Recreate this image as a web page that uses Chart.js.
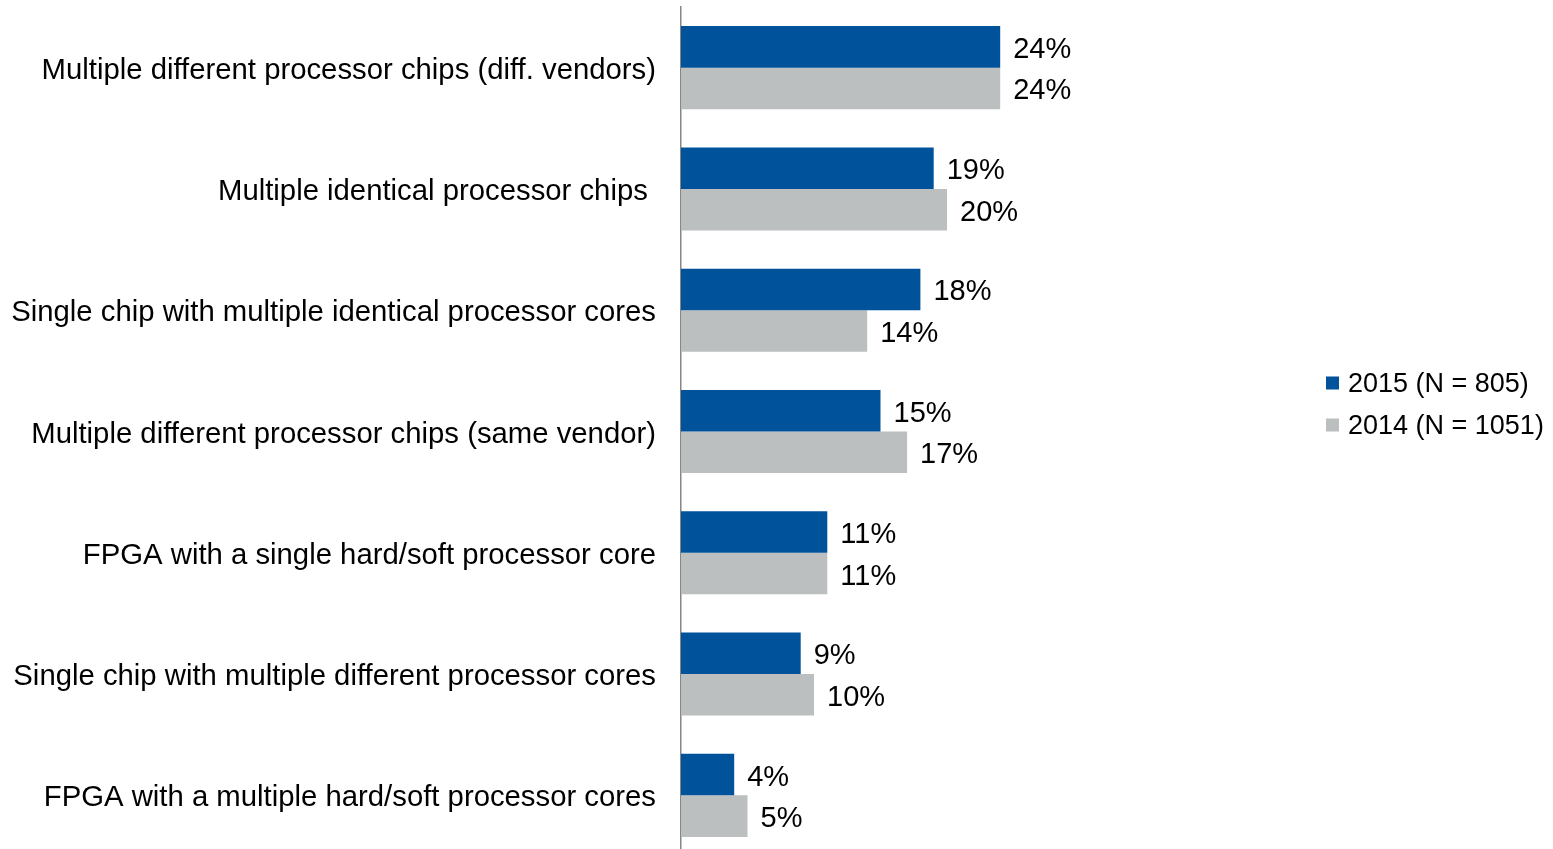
<!DOCTYPE html>
<html>
<head>
<meta charset="utf-8">
<title>Processor configurations</title>
<script src="https://cdn.jsdelivr.net/npm/chart.js@4.4.1/dist/chart.umd.min.js"></script>
<style>
  html, body { margin: 0; padding: 0; background: #ffffff; overflow: hidden; }
  #wrap { position: absolute; left: 0; top: 0; width: 1553px; height: 856px; }
</style>
</head>
<body>
<div id="wrap"><canvas id="chart" width="1553" height="856"></canvas></div>
<script>
// Survey answers, share of respondents (%)
const categories = [
  'Multiple different processor chips (diff. vendors)',
  'Multiple identical processor chips ',
  'Single chip with multiple identical processor cores',
  'Multiple different processor chips (same vendor)',
  'FPGA with a single hard/soft processor core',
  'Single chip with multiple different processor cores',
  'FPGA with a multiple hard/soft processor cores'
];
const values2015 = [24, 19, 18, 15, 11, 9, 4];
const values2014 = [24, 20, 14, 17, 11, 10, 5];
const seriesLabels = ['2015 (N = 805)', '2014 (N = 1051)'];

const BLUE = '#00529B';
const GREY = '#BBBFBF';
const FONT = '"Liberation Sans", Arial, Helvetica, sans-serif';

// Value labels written just past the end of each bar
const barValueLabels = {
  id: 'barValueLabels',
  afterDatasetsDraw(chart) {
    const ctx = chart.ctx;
    ctx.save();
    ctx.font = '29px ' + FONT;
    ctx.fillStyle = '#000000';
    ctx.textAlign = 'left';
    ctx.textBaseline = 'middle';
    chart.data.datasets.forEach((ds, i) => {
      const meta = chart.getDatasetMeta(i);
      meta.data.forEach((bar, j) => {
        ctx.fillText(ds.data[j] + '%', bar.x + 13, bar.y + 3);
      });
    });
    ctx.restore();
  }
};

// Legend block to the right of the plot
const sideLegend = {
  id: 'sideLegend',
  afterDraw(chart, args, opts) {
    const ctx = chart.ctx;
    ctx.save();
    ctx.font = opts.fontSize + 'px ' + FONT;
    ctx.textAlign = 'left';
    ctx.textBaseline = 'middle';
    chart.data.datasets.forEach((ds, i) => {
      const y = opts.y + i * opts.rowGap;
      ctx.fillStyle = ds.backgroundColor;
      ctx.fillRect(opts.x, y - opts.box / 2, opts.box, opts.box);
      ctx.fillStyle = '#000000';
      ctx.fillText(ds.label, opts.x + opts.box + 9, y + 2);
    });
    ctx.restore();
  }
};

new Chart(document.getElementById('chart'), {
  type: 'bar',
  data: {
    labels: categories,
    datasets: [
      { label: seriesLabels[0], data: values2015, backgroundColor: BLUE },
      { label: seriesLabels[1], data: values2014, backgroundColor: GREY }
    ]
  },
  options: {
    indexAxis: 'y',
    responsive: false,
    devicePixelRatio: 1,
    animation: false,
    layout: { padding: { left: 0, right: 473, top: 7, bottom: 0 } },
    datasets: { bar: { categoryPercentage: 0.685, barPercentage: 1.0, borderWidth: 0 } },
    scales: {
      x: { min: 0, max: 30, display: false },
      y: {
        grid: { display: false, drawTicks: false },
        border: { display: true, color: '#868686', width: 1.5 },
        ticks: { color: '#000000', font: { family: FONT, size: 29.3 }, padding: 25, labelOffset: 3, autoSkip: false },
        afterFit(scale) {
          scale.width = 681;
          scale.paddingTop = 0;
          scale.paddingBottom = 0;
        }
      }
    },
    plugins: {
      legend: { display: false },
      tooltip: { enabled: false },
      sideLegend: { x: 1326, y: 383, rowGap: 42, box: 13, fontSize: 27 }
    }
  },
  plugins: [barValueLabels, sideLegend]
});
</script>
</body>
</html>
